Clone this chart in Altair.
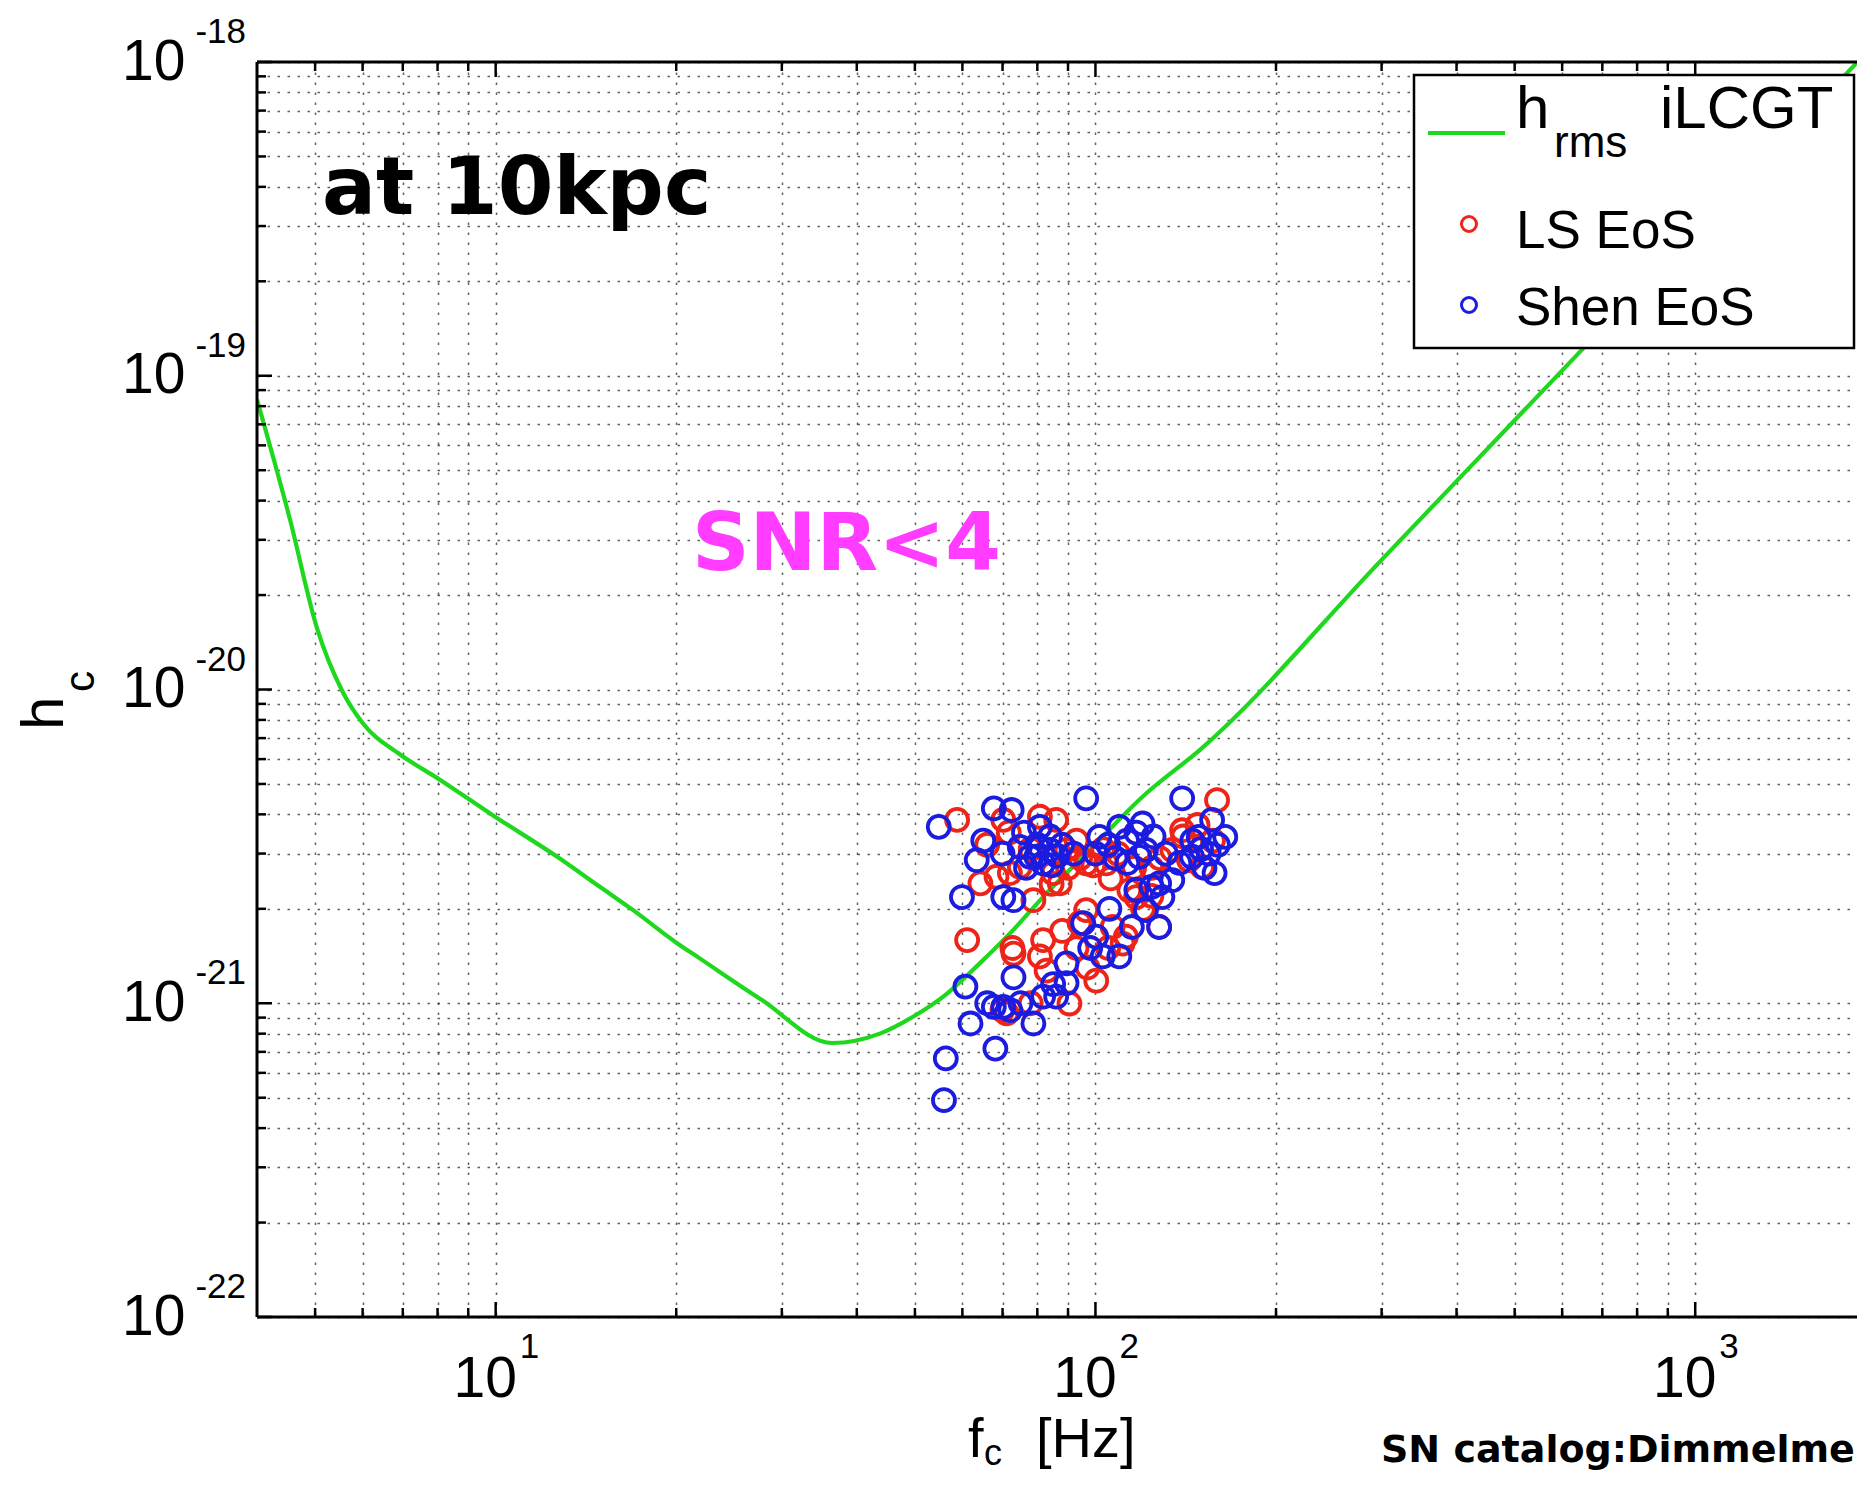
import altair as alt
import pandas as pd

FONT = "Liberation Sans"
BOLD_FONT = "DejaVu Sans"
GREEN = "#1ed81e"
RED = "#ee2418"
BLUE = "#1c1ce0"
MAGENTA = "#ff3cff"

# ---------------- data ----------------
# h_rms sensitivity curve (iLCGT)
curve_f = [4.0, 4.54, 5.03, 5.57, 6.01, 6.92, 8.07, 9.90, 12.63, 14.92, 16.95, 20.01,
           21.89, 27.67, 36.41, 43.7, 49.65, 56.44, 64.14, 72.89, 82.84, 94.15, 121.6,
           149.2, 300.0, 650.0, 1000.0, 2000.0]
curve_h = [8.4e-20, 3.48e-20, 1.58e-20, 9.75e-21, 7.79e-21, 6.22e-21, 5.16e-21, 3.97e-21,
           2.94e-21, 2.35e-21, 1.98e-21, 1.56e-21, 1.39e-21, 1.03e-21, 7.47e-22, 8.0e-22,
           9.06e-22, 1.07e-21, 1.34e-21, 1.71e-21, 2.24e-21, 2.86e-21, 4.67e-21, 6.41e-21,
           2.59e-20, 1.22e-19, 2.88e-19, 1.15e-18]

# LS EoS models (red)
ls_f = [58.8, 70.2, 80.8, 86.0, 159.5, 139.5, 64.3, 68.4, 78.8, 87.2, 61.1, 73.0, 81.8,
        80.8, 82.9, 96.5, 94.1, 106.8, 112.4, 111.0, 100.3, 113.9, 116.9, 127.7, 90.5,
        71.1, 89.5, 96.5, 104.2, 134.3, 143.2, 150.6, 74.8, 94.3, 99.2, 71.7, 84.5, 72.7,
        66.0, 72.0, 78.0, 85.0, 90.0, 93.0, 103.0, 109.0, 116.0, 124.0, 128.0, 140.0,
        157.0, 148.0, 106.0, 88.0, 93.0, 105.0, 120.0, 124.0, 97.0, 78.0, 70.0]
ls_h = [3.84e-21, 3.84e-21, 3.93e-21, 3.84e-21, 4.44e-21, 3.56e-21, 2.41e-21, 2.53e-21,
        2.13e-21, 2.41e-21, 1.59e-21, 1.44e-21, 1.59e-21, 1.41e-21, 1.27e-21, 1.98e-21,
        1.80e-21, 1.75e-21, 1.63e-21, 1.55e-21, 1.18e-21, 2.29e-21, 2.18e-21, 1.75e-21,
        9.98e-22, 9.28e-22, 3.08e-21, 2.79e-21, 2.79e-21, 3.08e-21, 2.86e-21, 2.72e-21,
        2.72e-21, 2.90e-21, 2.75e-21, 3.50e-21, 2.40e-21, 1.50e-21,
        3.20e-21, 2.60e-21, 3.10e-21, 2.60e-21, 2.70e-21, 3.30e-21, 3.10e-21, 3.00e-21,
        2.70e-21, 2.70e-21, 2.90e-21, 3.40e-21, 3.30e-21, 3.70e-21, 2.50e-21, 1.70e-21,
        1.50e-21, 1.50e-21, 2.00e-21, 2.20e-21, 1.30e-21, 1.00e-21, 9.50e-22]

# Shen EoS models (blue)
shen_f = [54.8, 96.5, 139.5, 67.7, 72.5, 156.5, 164.6, 63.4, 59.9, 70.2, 73.0, 80.8, 83.9,
          77.8, 74.8, 79.7, 81.8, 101.5, 109.6, 119.8, 121.4, 118.3, 148.7, 154.5, 144.9,
          105.5, 95.4, 100.3, 127.7, 134.3, 129.3, 121.4, 127.7, 102.8, 109.6, 89.5, 89.5,
          73.0, 60.7, 67.7, 70.2, 72.1, 61.9, 78.8, 81.8, 86.0, 68.1, 56.3, 55.9, 76.6,
          84.5, 86.4, 112.9, 108.0,
          65.0, 70.0, 76.0, 80.0, 84.0, 88.0, 92.0, 100.0, 105.0, 113.0, 117.0, 125.0,
          131.0, 138.0, 150.0, 160.0, 145.0, 152.0, 158.0, 98.0, 115.0, 117.0, 124.0,
          66.0, 75.0, 85.0]
shen_h = [3.65e-21, 4.50e-21, 4.50e-21, 4.18e-21, 4.13e-21, 3.84e-21, 3.39e-21, 2.86e-21,
          2.18e-21, 2.18e-21, 2.13e-21, 3.65e-21, 3.08e-21, 2.93e-21, 3.15e-21, 2.93e-21,
          2.79e-21, 3.39e-21, 3.65e-21, 3.74e-21, 3.08e-21, 2.93e-21, 3.39e-21, 3.00e-21,
          2.93e-21, 2.00e-21, 1.80e-21, 1.63e-21, 2.41e-21, 2.47e-21, 2.18e-21, 1.98e-21,
          1.75e-21, 1.41e-21, 1.41e-21, 1.34e-21, 1.16e-21, 1.21e-21, 1.13e-21, 9.74e-22,
          9.74e-22, 9.51e-22, 8.62e-22, 8.62e-22, 1.05e-21, 1.05e-21, 7.17e-22, 6.67e-22,
          4.91e-22, 2.70e-21, 2.75e-21, 2.95e-21, 3.30e-21, 2.90e-21,
          3.30e-21, 3.00e-21, 3.50e-21, 3.20e-21, 3.40e-21, 3.20e-21, 3.00e-21, 3.00e-21,
          3.20e-21, 2.80e-21, 3.50e-21, 3.40e-21, 3.00e-21, 2.80e-21, 3.10e-21, 3.20e-21,
          3.30e-21, 2.70e-21, 2.60e-21, 1.50e-21, 1.75e-21, 2.30e-21, 2.35e-21,
          1.00e-21, 1.00e-21, 1.15e-21]

# axes
x_major = [10, 100, 1000]
x_exponents = ["1", "2", "3"]
y_major = [1e-22, 1e-21, 1e-20, 1e-19, 1e-18]
y_exponents = ["-22", "-21", "-20", "-19", "-18"]
X_DOMAIN = [4, 1861]
Y_DOMAIN = [1e-22, 1e-18]

# labels
series_names = ["LS EoS", "Shen EoS"]
curve_name = ["h", "rms", "iLCGT"]
x_title = ["f", "c", "[Hz]"]
y_title = ["h", "c"]
annotations = ["at 10kpc", "SNR<4", "SN catalog:Dimmelmeier et al. 2008"]

# ---------------- layout ----------------
W, H = 1600, 1255
PAD = {"left": 249, "top": 54, "right": 0, "bottom": 156}

x_minor = [m * 10 ** d for d in range(0, 4) for m in range(2, 10)
           if X_DOMAIN[0] < m * 10 ** d < X_DOMAIN[1]]
y_minor = [m * 10.0 ** d for d in range(-22, -18) for m in range(2, 10)]

xs = alt.Scale(type="log", domain=X_DOMAIN, nice=False)
ys = alt.Scale(type="log", domain=Y_DOMAIN, nice=False)

MAJOR_EXPR = ("abs(log(datum.value)/LN10 - round(log(datum.value)/LN10)) < 0.0001 ? '10' : ''")

grid_common = dict(grid=True, gridColor="#444444", gridDash=[2.5, 7.5], gridWidth=1.5,
                   gridOpacity=0.85, ticks=False, tickSize=0, domain=False,
                   labelExpr=MAJOR_EXPR, labelFont=FONT, labelFontSize=57,
                   labelColor="black", labelFlush=False, labelOverlap=False, title=None)

x_axis = alt.Axis(values=sorted(x_major + x_minor), labelPadding=79,
                  labelBaseline="alphabetic", labelOffset=-11, **grid_common)
y_axis = alt.Axis(values=sorted(y_major + y_minor), labelPadding=72,
                  labelAlign="right", labelBaseline="middle", **grid_common)


def X(field):
    return alt.X(field, scale=xs, axis=x_axis)


def Y(field):
    return alt.Y(field, scale=ys, axis=y_axis)


curve_df = pd.DataFrame({"f": curve_f, "h": curve_h})
ls_df = pd.DataFrame({"f": ls_f, "h": ls_h})
shen_df = pd.DataFrame({"f": shen_f, "h": shen_h})
one = pd.DataFrame({"k": [0]})

curve = alt.Chart(curve_df).mark_line(
    color=GREEN, strokeWidth=4.2, clip=True, interpolate="monotone"
).encode(x=X("f:Q"), y=Y("h:Q"))


def pts(df, color):
    return alt.Chart(df).mark_point(
        shape="circle", filled=False, size=484, strokeWidth=3.8, color=color, opacity=1
    ).encode(x=X("f:Q"), y=Y("h:Q"))


def xticks(vals, y0, y1):
    return alt.Chart(pd.DataFrame({"v": vals})).mark_rule(color="black", strokeWidth=2.5).encode(
        x=X("v:Q"), y=alt.value(y0), y2=alt.value(y1))


def yticks(vals, x0, x1):
    return alt.Chart(pd.DataFrame({"v": vals})).mark_rule(color="black", strokeWidth=2.5).encode(
        y=Y("v:Q"), x=alt.value(x0), x2=alt.value(x1))


def txt(s, x, y, size, color="black", font=FONT, weight="normal", angle=0):
    return alt.Chart(one).mark_text(
        text=s, font=font, fontSize=size, fontWeight=weight, color=color,
        align="left", baseline="alphabetic", angle=angle
    ).encode(x=alt.value(x), y=alt.value(y))


frame = [
    alt.Chart(one).mark_rule(color="black", strokeWidth=3).encode(
        x=alt.value(0), y=alt.value(0), y2=alt.value(H)),
    alt.Chart(one).mark_rule(color="black", strokeWidth=3).encode(
        y=alt.value(0), x=alt.value(0), x2=alt.value(W)),
    alt.Chart(one).mark_rule(color="black", strokeWidth=3).encode(
        y=alt.value(H), x=alt.value(0), x2=alt.value(W)),
]

ticks = [
    xticks(x_major, H, H - 15), xticks(x_minor, H, H - 9),
    xticks(x_major, 0, 15), xticks(x_minor, 0, 9),
    yticks(y_major, 0, 15), yticks(y_minor, 0, 9),
]

x_exp = alt.Chart(pd.DataFrame({"v": x_major, "t": x_exponents})).mark_text(
    font=FONT, fontSize=35, align="left", baseline="alphabetic", dx=24, color="black"
).encode(x=X("v:Q"), y=alt.value(H + 41), text="t:N")

y_exp = alt.Chart(pd.DataFrame({"v": y_major, "t": y_exponents})).mark_text(
    font=FONT, fontSize=35, align="right", baseline="alphabetic", dy=-19, color="black"
).encode(y=Y("v:Q"), x=alt.value(-11), text="t:N")

titles = [
    txt(x_title[0], 711, 1395, 56),
    txt(x_title[1], 727, 1403, 36),
    txt(x_title[2], 779, 1395, 56),
    txt(y_title[0], -194, 668, 60, angle=270),
    txt(y_title[1], -163, 630, 42, angle=270),
]

notes = [
    txt(annotations[0], 65, 152, 80, font=BOLD_FONT, weight="bold"),
    txt(annotations[1], 435, 508, 80, color=MAGENTA, font=BOLD_FONT, weight="bold"),
    txt(annotations[2], 1124, 1400, 38, font=BOLD_FONT, weight="bold"),
]

legend = [
    alt.Chart(one).mark_rect(fill="white", stroke="black", strokeWidth=2.5).encode(
        x=alt.value(1157), x2=alt.value(1597), y=alt.value(13), y2=alt.value(286)),
    alt.Chart(one).mark_rule(color=GREEN, strokeWidth=4).encode(
        x=alt.value(1171), x2=alt.value(1248), y=alt.value(71)),
    txt(curve_name[0], 1259, 66, 60),
    txt(curve_name[1], 1297, 95, 44),
    txt(curve_name[2], 1403, 66, 60),
    alt.Chart(one).mark_point(shape="circle", filled=False, size=225, strokeWidth=3,
                              color=RED, opacity=1).encode(x=alt.value(1212), y=alt.value(162)),
    txt(series_names[0], 1259, 186, 53),
    alt.Chart(one).mark_point(shape="circle", filled=False, size=225, strokeWidth=3,
                              color=BLUE, opacity=1).encode(x=alt.value(1212), y=alt.value(243)),
    txt(series_names[1], 1259, 263, 53),
]

chart = alt.layer(
    curve, pts(ls_df, RED), pts(shen_df, BLUE), *frame, *ticks, x_exp, y_exp,
    *titles, *notes, *legend
).properties(
    width=W, height=H, padding=PAD, autosize=alt.AutoSizeParams(type="none")
).configure_view(stroke=None)

chart.save("out.html", embed_options={"renderer": "svg", "actions": False})
